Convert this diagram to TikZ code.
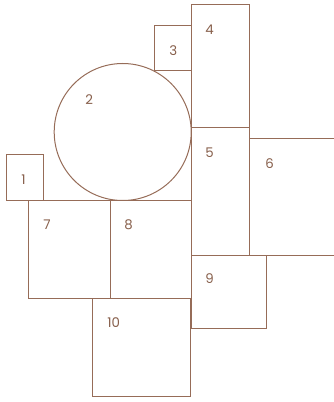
\documentclass[tikz,border=0pt]{standalone}
\usepackage{fontspec}
\setmainfont{Poppins}
\usepackage{tikz}
\usetikzlibrary{positioning}
\definecolor{roomline}{RGB}{150, 108, 88}
\definecolor{roomtext}{RGB}{135, 95, 75}

\begin{document}
\begin{tikzpicture}[x=0.75pt, y=-0.75pt,
        room/.style={rectangle, draw=roomline, line width=0.75pt, inner sep=0pt, outer sep=0pt, anchor=north west},
        disc/.style={circle, draw=roomline, line width=0.75pt, inner sep=0pt, outer sep=0pt},
        tag/.style={anchor=west, inner sep=0pt, text=roomtext, font=\fontsize{10}{12}\selectfont}]
        
        \useasboundingbox (0,0) rectangle (334,402);
        \clip (0,0) rectangle (334,402);
        
        \node [room, minimum width=27.75pt, minimum height=34.3pt] (r1) at (6.3,155) {};
        \node [disc, minimum size=102.75pt] (r2) at (122.7,132) {};
        \node [room, minimum width=27.75pt, minimum height=33.75pt] (r3) at (154,26) {};
        \node [room, minimum width=44pt, minimum height=92pt] (r4) at (191,5) {};
        \node [room, minimum width=44pt, minimum height=95.5pt] (r5) at (191,127.7) {};
        \node [room, minimum width=100pt, minimum height=87pt] (r6) at (249.7,139) {};
        \node [room, minimum width=61pt, minimum height=73.2pt] (r7) at (28.7,200.7) {};
        \node [room, minimum width=60.75pt, minimum height=73.2pt] (r8) at (110,200.7) {};
        \node [room, minimum width=56.25pt, minimum height=54.75pt] (r9) at (191,255) {};
        \node [room, minimum width=74pt, minimum height=73.3pt] (r10) at (92.3,298.3) {};
        
        \node [tag] (t1) at (21,180) {1};
        \node [tag] (t2) at (85,100) {2};
        \node [tag] (t3) at (169,51) {3};
        \node [tag] (t4) at (205,30) {4};
        \node [tag] (t5) at (205,153) {5};
        \node [tag] (t6) at (265,164) {6};
        \node [tag] (t7) at (43,225) {7};
        \node [tag] (t8) at (124,225) {8};
        \node [tag] (t9) at (205,279) {9};
        \node [tag] (t10) at (107,323) {10};
    \end{tikzpicture}
\end{document}
